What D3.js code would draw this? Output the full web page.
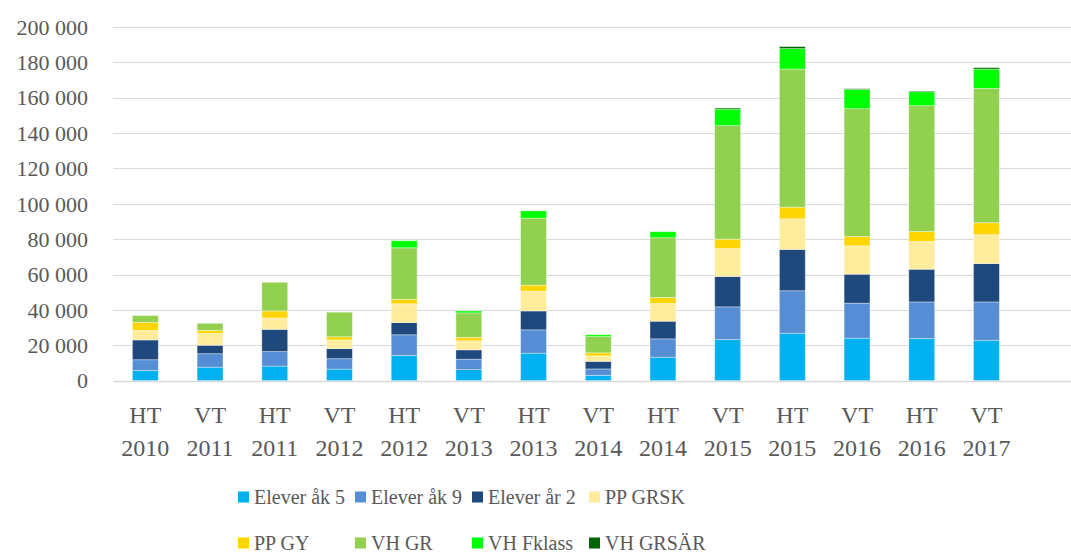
<!DOCTYPE html>
<html>
<head>
<meta charset="utf-8">
<script src="https://cdn.jsdelivr.net/npm/d3@7"></script>
<style>
  body { margin: 0; background: #fff; }
</style>
</head>
<body>
<div id="chart"></div>
<script>
// kategorier (termin + år)
const categories = ["HT 2010", "VT 2011", "HT 2011", "VT 2012", "HT 2012", "VT 2013", "HT 2013",
    "VT 2014", "HT 2014", "VT 2015", "HT 2015", "VT 2016", "HT 2016", "VT 2017"];

const seriesNames = ["Elever åk 5", "Elever åk 9", "Elever år 2", "PP GRSK", "PP GY", "VH GR", "VH Fklass", "VH GRSÄR"];
const seriesColors = ["#00B0F0", "#558ED5", "#1F497D", "#FFEC9C", "#FFD500", "#92D050", "#00FF00", "#006400"];

// värden per serie
const elevAk5  = [5700, 7600, 8200, 6500, 14300, 6200, 15500, 3000, 13200, 23200, 26800, 24000, 23800, 22800];
const elevAk9  = [6100, 7600, 8200, 5900, 11600, 5900, 13200, 3600, 10400, 18500, 24000, 19800, 20700, 21700];
const elevAr2  = [11200, 4800, 12600, 5700, 6900, 5300, 10700, 4300, 10000, 17200, 23400, 16400, 18500, 21700];
const ppGrsk   = [5400, 6700, 6400, 4900, 10600, 5100, 11200, 3100, 10000, 15800, 17300, 16000, 15700, 16300];
const ppGy     = [4600, 1700, 4000, 1800, 2600, 2000, 3400, 1700, 3400, 5300, 6600, 5300, 5600, 6800];
const vhGr     = [3800, 4000, 16200, 13900, 29100, 13800, 37900, 9200, 33800, 64200, 78100, 72300, 71200, 76000];
const vhFklass = [0, 0, 0, 0, 4000, 1100, 4100, 1000, 3400, 9400, 11600, 10900, 7900, 10900];
const vhGrsar  = [0, 0, 0, 0, 0, 0, 0, 0, 0, 600, 1100, 400, 400, 800];

const yTicks = [0, 20000, 40000, 60000, 80000, 100000, 120000, 140000, 160000, 180000, 200000];

const seriesValues = [elevAk5, elevAk9, elevAr2, ppGrsk, ppGy, vhGr, vhFklass, vhGrsar];

const width = 1071, height = 556;
const plot = { left: 113, right: 1071, top: 27, bottom: 380.6 };
const step = 64.7;
const FONT = "'Liberation Serif', 'Times New Roman', serif";
const TEXT = "#595959";

const rows = categories.map((c, i) => {
    const r = { cat: c };
    seriesNames.forEach((s, j) => r[s] = seriesValues[j][i]);
    return r;
});

const stacked = d3.stack().keys(seriesNames)(rows);

const svg = d3.select("#chart").append("svg")
    .attr("width", width)
    .attr("height", height);

const x = d3.scaleBand()
    .domain(categories)
    .range([plot.left, plot.left + step * categories.length])
    .paddingInner(0.6)
    .paddingOuter(0.3);

const y = d3.scaleLinear()
    .domain([0, 200000])
    .range([plot.bottom, plot.top]);

const fmt = v => d3.format(",")(v).replace(/,/g, " ");

// rutnät
svg.append("g")
    .selectAll("line")
    .data(yTicks)
    .enter()
    .append("line")
    .attr("x1", plot.left)
    .attr("x2", plot.right)
    .attr("y1", d => Math.round(y(d)) + 0.5)
    .attr("y2", d => Math.round(y(d)) + 0.5)
    .attr("stroke", "#D9D9D9")
    .attr("stroke-width", d => d === 0 ? 1.5 : 1);

// y-axelns etiketter
svg.append("g")
    .selectAll("text")
    .data(yTicks)
    .enter()
    .append("text")
    .attr("x", 88)
    .attr("y", d => y(d))
    .attr("dy", "0.35em")
    .attr("text-anchor", "end")
    .attr("font-family", FONT)
    .attr("font-size", 22)
    .attr("fill", TEXT)
    .text(fmt);

// staplar
svg.append("g")
    .selectAll("g")
    .data(stacked)
    .enter()
    .append("g")
    .attr("fill", (d, i) => seriesColors[i])
    .selectAll("rect")
    .data(d => d)
    .enter()
    .append("rect")
    .attr("x", d => x(d.data.cat))
    .attr("width", x.bandwidth())
    .attr("y", d => y(d[1]))
    .attr("height", d => Math.max(0, y(d[0]) - y(d[1])))
    .attr("stroke", "rgba(255,255,255,0.45)")
    .attr("stroke-width", d => (d[1] - d[0]) > 0 ? 0.8 : 0);

// x-axelns etiketter (två rader)
const xl = svg.append("g")
    .selectAll("text")
    .data(categories)
    .enter()
    .append("text")
    .attr("text-anchor", "middle")
    .attr("font-family", FONT)
    .attr("font-size", 24)
    .attr("fill", TEXT);

xl.append("tspan")
    .attr("x", d => x(d) + x.bandwidth() / 2)
    .attr("y", 423)
    .text(d => d.split(" ")[0]);

xl.append("tspan")
    .attr("x", d => x(d) + x.bandwidth() / 2)
    .attr("y", 456)
    .text(d => d.split(" ")[1]);

// förklaring
const legend = svg.append("g")
    .selectAll("g")
    .data(seriesNames)
    .enter()
    .append("g")
    .attr("transform", (d, i) => `translate(${238 + (i % 4) * 117},${i < 4 ? 497 : 543})`);

legend.append("rect")
    .attr("y", -5.5)
    .attr("width", 11)
    .attr("height", 11)
    .attr("fill", (d, i) => seriesColors[i]);

legend.append("text")
    .attr("x", 16)
    .attr("y", 0)
    .attr("dy", "0.35em")
    .attr("font-family", FONT)
    .attr("font-size", 20)
    .attr("fill", TEXT)
    .text(d => d);
</script>
</body>
</html>
